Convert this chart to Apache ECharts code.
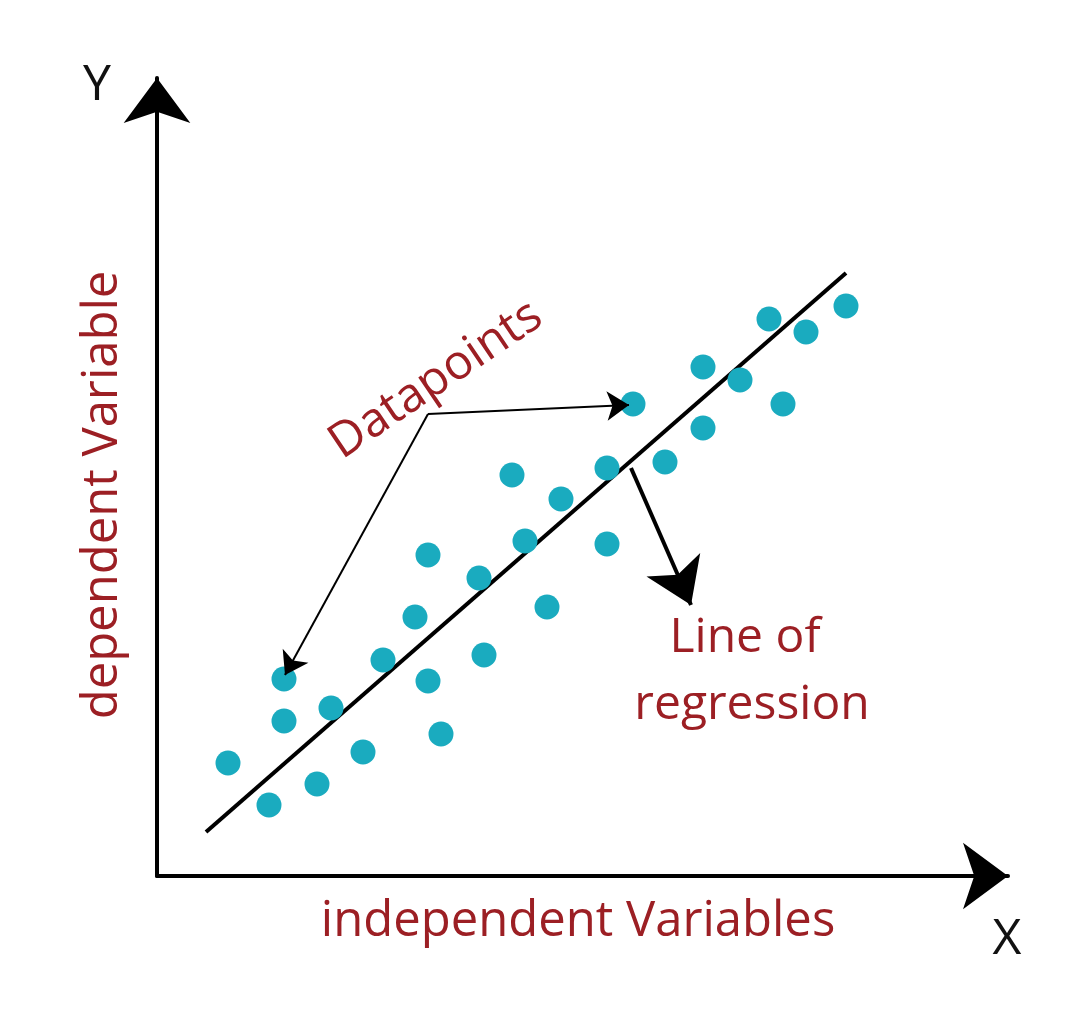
<!DOCTYPE html>
<html>
<head>
<meta charset="utf-8">
<script src="https://cdn.jsdelivr.net/npm/echarts@6/dist/echarts.min.js"></script>
<style>
html,body{margin:0;padding:0;background:#fff;}
#c{width:1080px;height:1016px;}
</style>
</head>
<body>
<div id="c"></div>
<script>
// Data points (axis units)
const pointsX = [71,112,127,127,160,174,206,226,258,271,271,284,322,327,355,368,390,404,450,450,476,508,546,546,583,612,626,649,689];
const pointsY = [113,71,197,155,92,168,124,216,259,321,195,142,298,221,401,335,269,377,408,332,472,414,509,448,496,557,472,544,570];
// Regression line end points
const lineX = [49, 689];
const lineY = [44, 603];
// Annotation arrows (axis units)
const dpVertex = [271, 462];
const dpTipA = [472, 471];
const dpTipB = [128, 201];
const regStart = [474, 408];
const regEnd = [534, 271];

const RED = '#9c1f24';
const TEAL = '#1aabbf';
const FONT = '"Open Sans", "Noto Sans", sans-serif';

const chart = echarts.init(document.getElementById('c'));
chart.setOption({
  backgroundColor: '#fff',
  animation: false,
  grid: {left: 157, right: 72, top: 78, bottom: 140},
  xAxis: {
    type: 'value', min: 0, max: 851,
    axisLine: {show: true, lineStyle: {color: '#000', width: 4}, symbol: ['none', 'arrow'], symbolSize: [50, 45]},
    axisTick: {show: false}, axisLabel: {show: false}, splitLine: {show: false}
  },
  yAxis: {
    type: 'value', min: 0, max: 798,
    axisLine: {show: true, lineStyle: {color: '#000', width: 4}, symbol: ['none', 'arrow'], symbolSize: [50, 45]},
    axisTick: {show: false}, axisLabel: {show: false}, splitLine: {show: false}
  },
  series: [
    {
      type: 'line',
      data: lineX.map((x, i) => [x, lineY[i]]),
      symbol: 'none',
      lineStyle: {color: '#000', width: 4},
      z: 3
    },
    {
      type: 'scatter',
      data: pointsX.map((x, i) => [x, pointsY[i]]),
      symbolSize: 25,
      itemStyle: {color: TEAL, opacity: 1},
      z: 4
    },
    {
      type: 'lines',
      coordinateSystem: 'cartesian2d',
      symbol: ['none', 'arrow'],
      symbolSize: [16, 22],
      lineStyle: {color: '#000', width: 2, opacity: 1},
      data: [{coords: [dpVertex, dpTipA]}, {coords: [dpVertex, dpTipB]}],
      z: 5
    },
    {
      type: 'lines',
      coordinateSystem: 'cartesian2d',
      symbol: ['none', 'arrow'],
      symbolSize: [46, 44],
      lineStyle: {color: '#000', width: 4, opacity: 1},
      data: [{coords: [regStart, regEnd]}],
      z: 5
    }
  ],
  graphic: [
    {type: 'text', x: 97, y: 86, style: {text: 'Y', font: '50px ' + FONT, fill: '#111', align: 'center', verticalAlign: 'middle'}},
    {type: 'text', x: 1007, y: 940, style: {text: 'X', font: '50px ' + FONT, fill: '#111', align: 'center', verticalAlign: 'middle'}},
    {type: 'text', x: 578, y: 922, style: {text: 'independent Variables', font: '49px ' + FONT, fill: RED, align: 'center', verticalAlign: 'middle'}},
    {type: 'text', x: 103, y: 495, rotation: Math.PI / 2, style: {text: 'dependent Variable', font: '49px ' + FONT, fill: RED, align: 'center', verticalAlign: 'middle'}},
    {type: 'text', x: 436, y: 380, rotation: 34 * Math.PI / 180, style: {text: 'Datapoints', font: '48px ' + FONT, fill: RED, align: 'center', verticalAlign: 'middle'}},
    {type: 'text', x: 745, y: 638, style: {text: 'Line of', font: '48px ' + FONT, fill: RED, align: 'center', verticalAlign: 'middle'}},
    {type: 'text', x: 752, y: 705, style: {text: 'regression', font: '48px ' + FONT, fill: RED, align: 'center', verticalAlign: 'middle'}}
  ]
});
</script>
</body>
</html>
